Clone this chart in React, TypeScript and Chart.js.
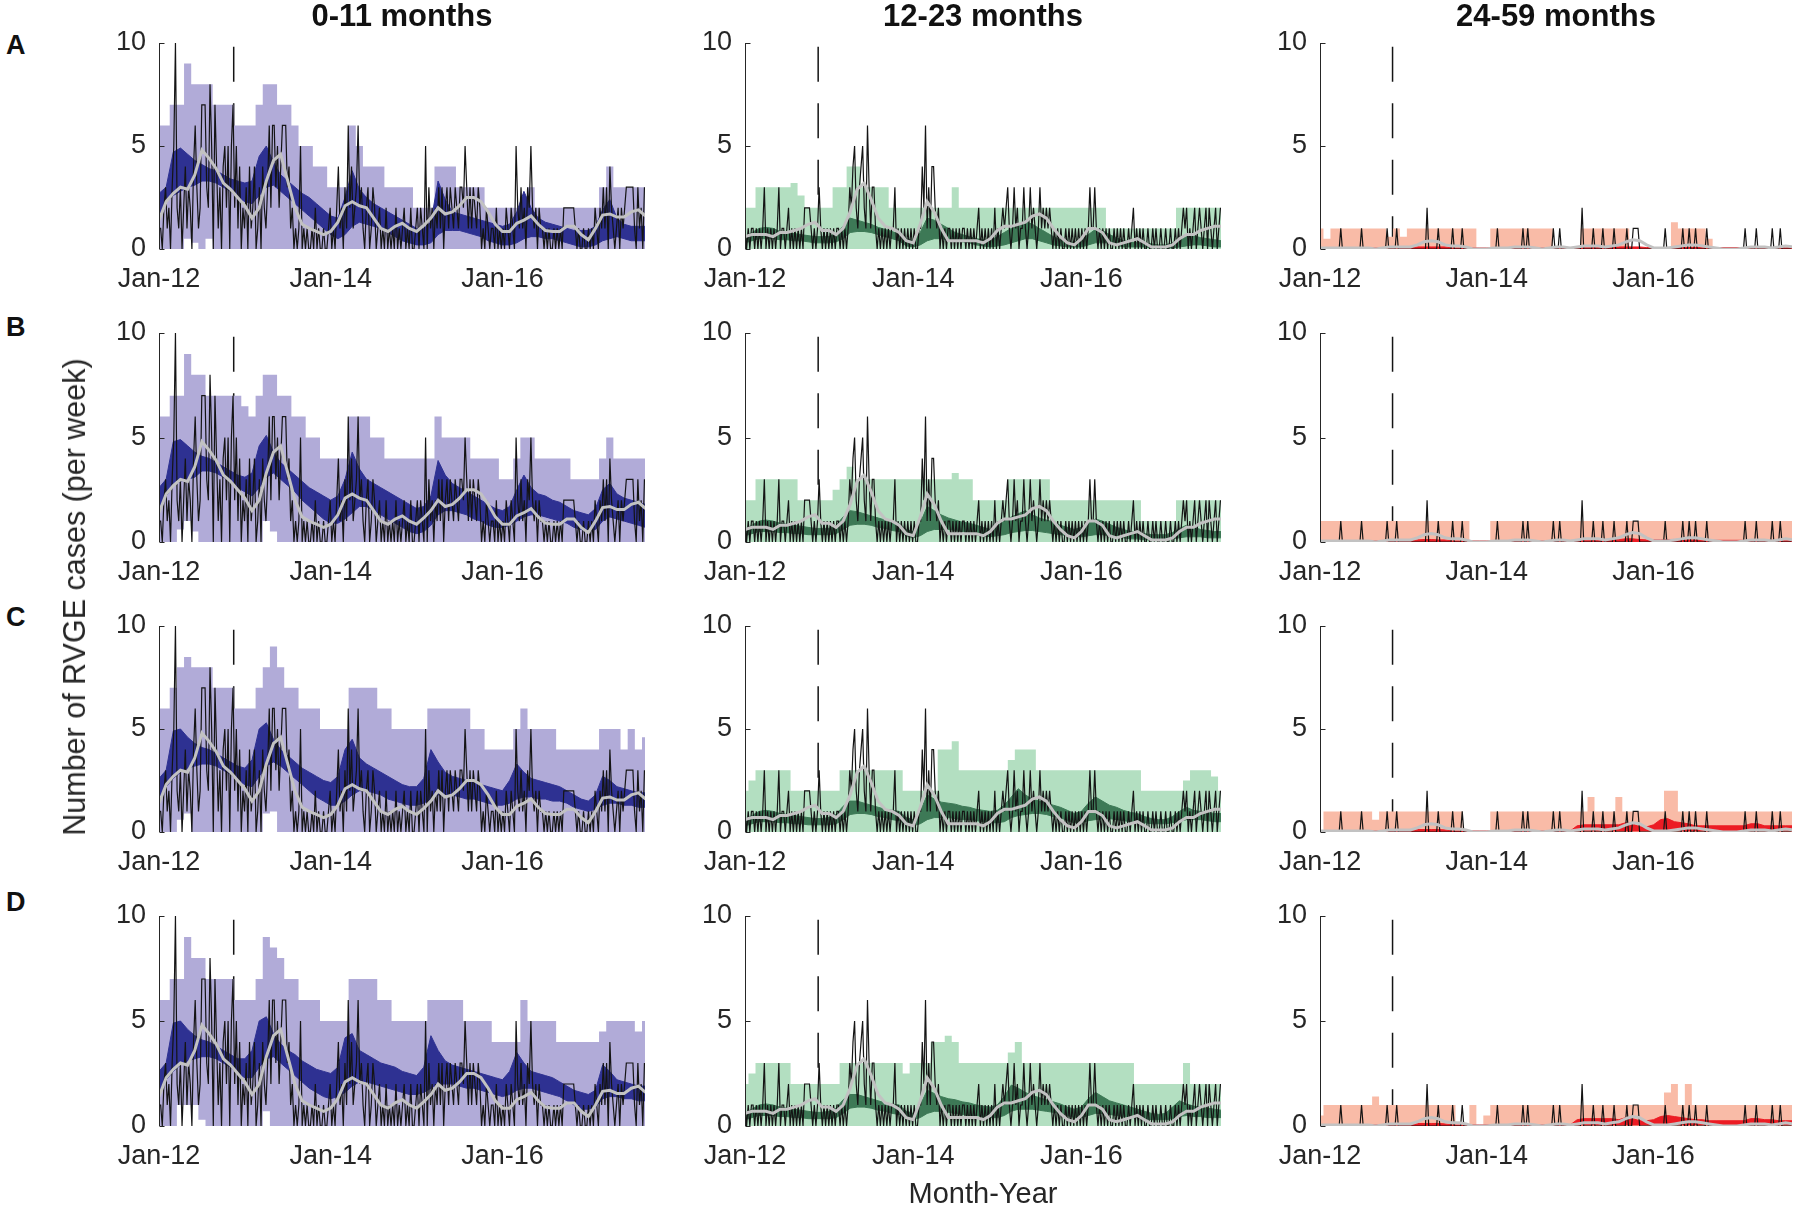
import React, { useEffect, useRef } from "react";
import { Chart, registerables } from "chart.js";

Chart.register(...registerables);

// ---------------- labels ----------------
const ageGroups = ["0-11 months", "12-23 months", "24-59 months"];
const rowLetters = ["A", "B", "C", "D"];
const xTickYears = [0, 2, 4];
const xTickLabels = ["Jan-12", "Jan-14", "Jan-16"];
const yTicks = [0, 5, 10];
const yAxisTitle = "Number of RVGE cases (per week)";
const xAxisTitle = "Month-Year";
const interventionYear = 0.87;
const weeksPerYear = 52.18;
const monthsPerYear = 12;
const xMaxYear = 5.66;

// ---------------- observed weekly cases (Jan 2012 onward) ----------------
const observedInfants = [
  1,1,0,2,3,1,2,0,3,5,
  10,2,1,3,0,2,4,1,3,2,
  0,4,6,3,1,2,7,7,7,3,
  2,8,5,0,7,4,1,3,0,4,
  5,2,5,0,5,7,2,5,1,4,
  0,2,1,3,0,4,1,2,4,0,
  1,3,0,4,2,1,3,6,2,6,
  6,3,5,2,4,6,6,6,3,4,
  1,2,0,1,0,1,5,0,1,0,
  1,0,0,1,0,2,0,1,0,0,
  1,0,0,1,2,0,1,0,2,4,
  1,2,0,3,1,6,2,4,1,2,
  3,6,2,3,1,0,2,3,0,1,
  3,2,0,1,2,0,1,0,2,0,
  1,0,1,0,2,0,1,0,1,2,
  0,1,0,2,0,0,1,2,0,2,
  1,0,5,0,3,1,2,0,2,1,
  3,1,3,0,2,3,1,3,2,1,
  3,2,1,3,3,2,5,3,1,3,
  1,3,2,1,3,2,0,1,0,2,
  1,0,1,1,0,2,0,1,0,1,
  0,2,1,0,2,1,0,5,2,1,
  3,1,2,0,3,2,5,2,1,2,
  0,2,1,1,0,1,0,1,0,0,
  1,0,1,0,1,0,2,2,2,2,
  2,2,2,1,0,1,0,0,1,0,
  0,1,0,1,0,2,1,0,2,1,
  3,1,3,0,4,2,1,0,1,2,
  0,2,1,2,3,3,3,3,3,1,
  0,3,1,2,0,3,
];
const observedToddlers = [
  1,0,1,0,1,1,0,1,0,1,
  0,1,3,0,1,0,1,0,1,0,
  1,3,0,1,1,0,1,2,0,1,
  0,1,0,1,0,1,0,2,2,2,
  2,1,0,1,0,1,3,1,0,1,
  0,1,0,1,0,1,0,1,1,0,
  1,0,1,0,1,3,2,4,5,2,
  1,3,4,5,2,1,6,3,1,3,
  3,1,0,1,0,1,0,1,0,1,
  0,1,1,3,0,1,0,1,0,1,
  0,1,0,1,0,1,0,0,1,1,
  4,2,6,1,3,1,4,4,2,1,
  2,0,1,0,1,0,1,1,0,1,
  0,1,0,1,0,1,1,0,1,0,
  1,0,1,0,1,2,0,1,0,1,
  0,1,0,1,0,2,0,1,0,1,
  2,1,2,3,1,0,1,3,1,2,
  0,1,1,3,1,0,1,3,1,2,
  1,0,1,3,1,2,1,2,1,2,
  1,0,1,0,1,0,1,0,0,1,
  0,1,0,1,0,1,0,1,0,1,
  0,1,0,1,3,1,1,3,1,0,
  1,0,1,0,1,0,1,0,0,1,
  0,1,0,1,0,1,0,0,1,0,
  1,2,0,1,0,1,0,1,0,0,
  1,0,0,1,0,1,0,0,1,0,
  0,1,0,0,1,0,0,1,0,1,
  0,1,2,1,2,0,1,0,1,2,
  0,1,2,1,0,1,2,0,2,1,
  0,1,2,0,1,2,
];
const observedChildren = [
  0,0,0,0,0,0,0,0,0,0,
  0,0,0,1,0,0,0,0,0,0,
  0,0,0,0,0,0,1,0,0,0,
  0,0,0,0,0,0,0,0,0,0,
  0,0,1,0,0,0,0,0,1,0,
  0,0,0,0,0,0,0,0,0,0,
  0,0,0,0,0,0,0,2,0,0,
  0,0,0,0,1,0,0,0,0,0,
  0,0,0,1,0,0,0,0,0,1,
  0,0,0,0,0,0,0,0,0,0,
  0,0,0,0,0,0,0,0,0,0,
  0,1,0,0,0,0,0,0,0,0,
  0,0,0,0,0,0,0,1,0,0,
  1,0,0,0,0,0,0,0,0,0,
  0,0,0,0,0,0,1,0,0,0,
  1,0,0,0,0,0,0,0,0,0,
  0,0,0,0,2,0,0,0,0,0,
  0,1,0,0,0,0,0,1,0,0,
  0,0,0,0,1,0,0,0,0,0,
  0,0,1,0,0,0,1,1,1,1,
  0,0,0,0,0,0,0,0,0,0,
  0,0,0,0,0,0,1,0,0,0,
  0,0,0,0,0,0,0,1,0,0,
  0,1,0,0,0,1,0,0,0,0,
  0,0,1,0,0,0,0,0,0,0,
  0,0,0,0,0,0,0,0,0,0,
  0,0,0,0,0,0,1,0,0,0,
  0,0,0,1,0,0,0,0,0,0,
  0,0,0,1,0,0,0,0,1,0,
  0,0,0,0,0,0,
];

// ---------------- smoothed observed (monthly, grey line) ----------------
const smoothedInfants = [
  1.4,2.3,2.7,3.0,2.9,3.6,4.8,4.4,3.9,3.2,2.9,2.5,
  2.1,1.5,2.0,3.3,4.3,4.6,3.3,2.0,1.2,1.0,0.85,0.7,
  0.85,1.3,2.1,2.3,2.1,2.0,1.5,1.0,0.85,1.1,1.25,1.0,
  0.85,1.15,1.5,2.0,1.7,1.8,2.1,2.5,2.5,2.3,1.8,1.2,
  0.85,0.85,1.25,1.4,1.6,1.2,0.9,0.85,0.85,1.1,1.1,0.7,
  0.45,1.0,1.65,1.7,1.55,1.55,1.8,1.9,1.6,
];
const smoothedToddlers = [
  0.6,0.7,0.7,0.7,0.6,0.8,0.8,0.9,1.0,1.2,1.3,0.9,
  0.9,0.7,1.0,1.8,2.9,3.2,2.4,1.5,1.1,1.0,0.8,0.4,
  0.3,1.2,2.3,1.8,1.0,0.4,0.4,0.4,0.4,0.4,0.3,0.5,
  0.9,1.1,1.1,1.2,1.3,1.6,1.7,1.5,1.0,0.6,0.3,0.2,
  0.5,1.0,1.0,0.8,0.3,0.2,0.3,0.4,0.5,0.3,0.1,0.1,
  0.1,0.2,0.5,0.7,0.7,0.9,1.0,1.1,1.1,
];
const smoothedChildren = [
  0.05,0.05,0.05,0.05,0.05,0.05,0.05,0.05,0.0,0.05,0.1,0.1,
  0.1,0.1,0.2,0.35,0.4,0.35,0.2,0.15,0.15,0.1,0.0,0.0,
  0.0,0.05,0.05,0.05,0.1,0.1,0.1,0.05,0.0,0.05,0.1,0.1,
  0.05,0.1,0.15,0.15,0.15,0.1,0.15,0.2,0.35,0.45,0.4,0.2,
  0.05,0.05,0.05,0.1,0.15,0.2,0.2,0.15,0.1,0.05,0.0,0.0,
  0.0,0.05,0.1,0.1,0.1,0.05,0.1,0.15,0.1,
];

// ---------------- 0-11 months: prediction intervals (monthly) ----------------
const lightHiA1 = [
  6,6,7,7,9,8,8,8,7,7,7,6,
  6,6,7,8,8,7,7,6,5,5,4,4,
  3,3,3,6,5,4,4,4,3,3,3,3,
  2,2,2,4,4,4,3,3,3,3,2,2,
  2,2,2,2,3,2,2,2,2,2,2,2,
  2,2,3,4,3,3,3,3,3,
];
const lightLoA1 = [
  0,0,0,0,0.5,0.3,0,0.5,0,0,0,0,
  0,0,0,0,0,0,0,0,0,0,0,0,
  0,0,0,0,0,0,0,0,0,0,0,0,
  0,0,0,0,0,0,0,0,0,0,0,0,
  0,0,0,0,0,0,0,0,0,0,0,0,
  0,0,0,0,0,0,0,0,0,
];
const darkHiA1 = [
  2.7,3.0,4.7,4.9,4.6,4.3,4.1,3.9,3.8,3.6,3.4,3.3,
  3.2,3.3,4.5,5.0,4.2,3.6,3.3,3.0,2.7,2.5,2.2,1.9,
  1.6,1.5,2.5,3.8,2.9,2.5,2.2,2.0,1.8,1.6,1.4,1.2,
  1.0,1.0,1.3,3.3,2.4,1.8,1.7,1.6,1.5,1.4,1.3,1.2,
  1.1,1.2,1.8,2.8,2.0,1.5,1.3,1.2,1.1,1.0,0.9,0.9,
  0.9,1.1,1.9,2.4,1.5,1.2,1.1,1.1,1.1,
];
const darkLoA1 = [
  1.5,2.3,2.6,2.8,3.0,3.1,3.3,3.3,3.2,3.0,2.8,2.5,
  2.3,2.2,2.6,3.0,3.1,2.8,2.5,2.2,1.9,1.6,1.3,1.0,
  0.7,0.5,0.7,1.1,1.3,1.2,1.1,1.0,0.8,0.6,0.4,0.3,
  0.2,0.2,0.3,0.7,0.9,0.9,0.9,0.8,0.7,0.6,0.4,0.3,
  0.2,0.2,0.3,0.5,0.6,0.6,0.5,0.5,0.4,0.3,0.2,0.1,
  0.1,0.2,0.4,0.5,0.6,0.5,0.4,0.4,0.4,
];
const lightHiB1 = [
  6,6,7,7,9,8,8,7,7,7,7,7,
  6.5,6,7,8,8,7,7,6,6,5,5,4,
  4,4,4,6,6,6,5,5,4,4,4,4,
  4,4,4,6,5,5,5,5,4,4,4,4,
  3,3,4,5,5,4,4,4,4,4,3,3,
  3,3,4,5,4,4,4,4,4,
];
const lightLoB1 = [
  0,0,0,0.6,1,0.5,0,0,0,0,0,0,
  0,0,0,1,0.5,0,0,0,0,0,0,0,
  0,0,0,0,0,0,0,0,0,0,0,0,
  0,0,0,0,0,0,0,0,0,0,0,0,
  0,0,0,0,0,0,0,0,0,0,0,0,
  0,0,0,0,0,0,0,0,0,
];
const darkHiB1 = [
  2.6,3.0,4.8,4.9,4.6,4.3,4.1,4.0,3.8,3.6,3.4,3.2,
  3.1,3.3,4.6,5.1,4.3,3.8,3.5,3.2,2.9,2.6,2.4,2.2,
  2.0,2.2,3.0,4.3,3.5,3.0,2.8,2.6,2.4,2.2,2.0,1.8,
  1.6,1.7,2.2,3.9,3.2,2.8,2.6,2.4,2.2,2.0,1.8,1.6,
  1.5,1.7,2.5,3.2,2.6,2.3,2.2,2.0,1.9,1.7,1.5,1.4,
  1.3,1.6,2.5,2.8,2.3,2.1,2.0,1.9,1.8,
];
const darkLoB1 = [
  1.5,2.2,2.7,2.9,3.0,3.1,3.4,3.4,3.3,3.1,2.9,2.6,
  2.4,2.2,2.6,3.1,3.3,3.0,2.7,2.4,2.0,1.7,1.4,1.1,
  0.9,0.9,1.1,1.4,1.7,1.7,1.5,1.3,1.1,0.9,0.7,0.5,
  0.4,0.5,0.8,1.3,1.5,1.5,1.4,1.3,1.1,1.0,0.8,0.7,
  0.7,0.8,1.0,1.2,1.3,1.3,1.2,1.1,1.0,0.9,0.7,0.6,
  0.5,0.6,1.0,1.2,1.1,1.0,0.9,0.8,0.7,
];
const lightHiC1 = [
  6,6,7,8,8.5,8,8,8,7,7,7,6,
  6,6,7,8,9,8,7,7,6,6,6,5,
  5,5,5,7,7,7,7,6,6,5,5,5,
  5,5,6,6,6,6,6,6,5,5,4,4,
  4,4,5,6,5,5,5,5,4,4,4,4,
  4,4,5,5,5,4,5,4,4.6,
];
const lightLoC1 = [
  0,0,0,0.6,0.9,0,0,0,0,0,0,0,
  0,0,0,0.9,1,0,0,0,0,0,0,0,
  0,0,0,0,0,0,0,0,0,0,0,0,
  0,0,0,0,0,0,0,0,0,0,0,0,
  0,0,0,0,0,0,0,0,0,0,0,0,
  0,0,0,0,0,0,0,0,0,
];
const darkHiC1 = [
  2.6,3.0,4.9,5.0,4.6,4.3,4.1,4.0,3.8,3.6,3.4,3.2,
  3.1,3.5,5.0,5.3,4.5,4.0,3.7,3.4,3.1,2.9,2.7,2.5,
  2.4,2.7,4.0,4.5,3.6,3.3,3.1,2.9,2.7,2.5,2.3,2.2,
  2.2,2.6,4.0,3.4,2.9,2.7,2.6,2.5,2.4,2.3,2.2,2.1,
  2.0,2.5,3.3,2.9,2.6,2.5,2.4,2.3,2.2,2.0,1.8,1.6,
  1.5,1.8,2.7,2.5,2.2,2.1,2.0,1.9,1.9,
];
const darkLoC1 = [
  1.5,2.2,2.6,2.9,3.1,3.2,3.3,3.3,3.2,3.0,2.8,2.5,
  2.3,2.2,2.7,3.2,3.4,3.2,2.9,2.6,2.3,2.0,1.7,1.5,
  1.3,1.3,1.5,1.8,2.0,2.0,1.9,1.8,1.6,1.5,1.4,1.3,
  1.3,1.4,1.6,1.8,1.8,1.8,1.7,1.6,1.6,1.5,1.4,1.3,
  1.3,1.4,1.6,1.7,1.7,1.6,1.6,1.5,1.5,1.4,1.2,1.1,
  1.0,1.1,1.3,1.4,1.4,1.3,1.3,1.2,1.2,
];
const lightHiD1 = [
  6,6,7,7,9,8,8,7,7,7,7,6,
  6,6,7,9,8.5,8,7,7,6,6,6,5,
  5,5,5,7,7,7,7,6,6,5,5,5,
  5,5,6,6,6,6,6,5,5,5,5,4,
  4,4,4,6,5,5,5,5,4,4,4,4,
  4,4,4.5,5,5,5,5,4.5,5,
];
const lightLoD1 = [
  0,0,0,1,1,1,0.3,0,0,0,0,0,
  0,0,0,0.7,0,0,0,0,0,0,0,0,
  0,0,0,0,0,0,0,0,0,0,0,0,
  0,0,0,0,0,0,0,0,0,0,0,0,
  0,0,0,0,0,0,0,0,0,0,0,0,
  0,0,0,0,0,0,0,0,0,
];
const darkHiD1 = [
  2.6,3.0,4.9,5.0,4.6,4.3,4.1,4.0,3.8,3.6,3.4,3.2,
  3.2,3.6,5.0,5.2,4.4,3.9,3.6,3.4,3.1,2.9,2.7,2.6,
  2.5,2.8,4.2,4.4,3.6,3.4,3.2,3.0,2.9,2.8,2.6,2.5,
  2.4,2.8,4.3,3.6,3.1,2.9,2.8,2.7,2.6,2.5,2.4,2.3,
  2.2,2.6,3.5,3.0,2.6,2.5,2.4,2.3,2.1,1.9,1.7,1.6,
  1.5,1.7,2.9,2.6,2.2,2.1,2.0,1.9,1.9,
];
const darkLoD1 = [
  1.5,2.2,2.6,2.9,3.1,3.2,3.3,3.3,3.2,3.0,2.8,2.5,
  2.3,2.3,2.8,3.2,3.3,3.0,2.7,2.4,2.1,1.8,1.6,1.4,
  1.3,1.4,1.6,1.9,2.1,2.1,2.0,1.9,1.8,1.7,1.6,1.5,
  1.5,1.6,1.8,2.0,2.0,2.0,1.9,1.8,1.8,1.7,1.6,1.5,
  1.4,1.5,1.7,1.8,1.8,1.7,1.6,1.5,1.4,1.2,1.0,0.8,
  0.8,0.9,1.3,1.4,1.4,1.3,1.3,1.2,1.2,
];

// ---------------- 12-23 months ----------------
const lightHiA2 = [
  2,2,3,3,3,3,3,3.2,2.6,2,2,2,
  2,3,3,4,4,3,3,3,3,2,2,2,
  2,2,2,2,2,2,3,2,2,2,2,2,
  2,2,2,2,2,2,2,2,2,2,2,2,
  2,2,2,2,1,1,1,1,1,1,1,1,
  1,1,2,2,2,2,2,2,2,
];
const darkHiA2 = [
  0.6,0.8,1.0,1.05,1.0,0.85,0.8,0.75,0.7,0.65,0.6,0.6,
  0.6,0.75,1.1,1.5,1.4,1.3,1.2,1.05,0.95,0.85,0.7,0.5,
  0.4,0.8,1.5,1.4,1.2,1.0,0.8,0.7,0.6,0.5,0.45,0.4,
  0.6,0.8,1.0,1.2,1.35,1.2,1.0,0.8,0.6,0.45,0.3,0.35,
  0.5,0.7,0.95,0.9,0.7,0.55,0.4,0.35,0.3,0.3,0.25,0.2,
  0.2,0.3,0.45,0.6,0.65,0.55,0.5,0.45,0.4,
];
const darkLoA2 = [
  0.3,0.4,0.5,0.5,0.5,0.45,0.45,0.4,0.4,0.35,0.3,0.3,
  0.3,0.35,0.5,0.8,0.85,0.85,0.8,0.7,0.6,0.5,0.4,0.15,
  0.1,0.2,0.4,0.5,0.5,0.45,0.4,0.35,0.3,0.2,0.15,0.1,
  0.15,0.2,0.3,0.4,0.5,0.5,0.4,0.3,0.2,0.15,0.1,0.1,
  0.1,0.2,0.3,0.3,0.3,0.2,0.1,0.1,0.1,0.1,0.05,0.05,
  0.05,0.05,0.1,0.15,0.2,0.2,0.15,0.1,0.1,
];
const lightHiB2 = [
  2,2,3,3,3,3,3,3,2,2,2,2,
  2,2.5,3,3.6,3,3,3,3,3,3,3,3,
  3,3,3,3,3,3,3.3,3,3,2,2,2,
  2,2,3,3,3,3,3,3,2,2,2,2,
  2,2,2,2,2,2,2,2,2,1,1,1,
  1,1,2,2,2,2,2,2,2,
];
const darkHiB2 = [
  0.6,0.8,1.0,1.05,1.0,0.9,0.85,0.8,0.75,0.7,0.65,0.65,
  0.65,0.8,1.2,1.5,1.45,1.35,1.25,1.15,1.05,1.0,0.9,0.6,
  0.5,0.9,1.7,1.5,1.3,1.15,1.05,0.95,0.9,0.8,0.7,0.6,
  0.8,1.0,1.2,1.35,1.5,1.3,1.15,1.05,0.95,0.8,0.7,0.6,
  0.7,0.9,1.1,1.0,0.85,0.7,0.6,0.5,0.45,0.4,0.35,0.35,
  0.35,0.45,0.65,0.8,0.7,0.6,0.55,0.5,0.5,
];
const darkLoB2 = [
  0.3,0.4,0.5,0.5,0.5,0.45,0.45,0.4,0.4,0.35,0.35,0.35,
  0.35,0.4,0.6,0.8,0.85,0.85,0.8,0.7,0.65,0.55,0.5,0.3,
  0.2,0.3,0.5,0.6,0.6,0.6,0.55,0.5,0.45,0.35,0.3,0.25,
  0.3,0.35,0.45,0.5,0.55,0.55,0.5,0.45,0.4,0.35,0.3,0.25,
  0.25,0.3,0.35,0.35,0.3,0.25,0.2,0.15,0.15,0.1,0.1,0.1,
  0.1,0.15,0.2,0.25,0.25,0.25,0.2,0.2,0.2,
];
const lightHiC2 = [
  2,2.5,3,3,3,3,3,2,2,2,2,2,
  2,2,3,3,3,3,3,3,3,3,3,2,
  2,2,2,2,4,4,4.4,3,3,3,3,3,
  3,3,3.5,4,4,4,3,3,3,3,3,3,
  3,3,3,3,3,3,3,3,3,2,2,2,
  2,2,2,2.5,3,3,3,2.7,2,
];
const darkHiC2 = [
  0.6,0.8,1.0,1.05,1.0,0.9,0.85,0.8,0.75,0.7,0.65,0.65,
  0.7,0.85,1.25,1.5,1.5,1.4,1.3,1.2,1.1,1.05,1.0,0.7,
  0.6,1.0,1.8,1.6,1.45,1.4,1.35,1.25,1.2,1.1,1.05,1.0,
  1.05,1.3,1.7,2.1,1.8,1.6,1.5,1.4,1.3,1.2,1.05,0.9,
  1.0,1.4,1.7,1.5,1.3,1.2,1.05,0.95,0.9,0.75,0.65,0.6,
  0.6,0.75,1.0,1.2,1.05,1.0,0.95,0.9,0.9,
];
const darkLoC2 = [
  0.3,0.4,0.5,0.5,0.5,0.45,0.45,0.4,0.4,0.35,0.35,0.35,
  0.35,0.4,0.6,0.85,0.9,0.9,0.85,0.75,0.7,0.6,0.55,0.35,
  0.3,0.4,0.6,0.7,0.7,0.7,0.65,0.6,0.6,0.55,0.5,0.45,
  0.45,0.5,0.7,0.8,0.85,0.9,0.9,0.85,0.75,0.7,0.55,0.45,
  0.45,0.55,0.6,0.65,0.65,0.6,0.55,0.5,0.5,0.45,0.4,0.4,
  0.4,0.45,0.5,0.6,0.6,0.6,0.55,0.5,0.5,
];
const lightHiD2 = [
  2,2.5,3,3,3,3,3,2,2,2,2,2,
  2,2,3,3,3,3,3,3,3,3,3,2.5,
  3,3,3,4,4,4.3,4,3,3,3,3,3,
  3,3,3.5,4,3,3,3,3,3,3,3,3,
  3,3,3,3,3,3,3,3,2,2,2,2,
  2,2,2,3,2,2,2,2,2,
];
const darkHiD2 = [
  0.6,0.8,1.0,1.05,1.0,0.9,0.85,0.8,0.75,0.7,0.65,0.65,
  0.7,0.85,1.25,1.5,1.5,1.4,1.3,1.2,1.1,1.05,1.0,0.7,
  0.6,1.0,1.7,1.55,1.4,1.3,1.25,1.15,1.1,1.0,0.95,0.9,
  1.0,1.4,1.95,1.8,1.6,1.45,1.35,1.25,1.15,1.05,0.9,0.8,
  0.9,1.3,1.6,1.4,1.2,1.1,1.0,0.9,0.8,0.7,0.6,0.55,
  0.6,0.9,1.2,1.05,0.95,0.9,0.85,0.8,0.75,
];
const darkLoD2 = [
  0.3,0.4,0.5,0.5,0.5,0.45,0.45,0.4,0.4,0.35,0.35,0.35,
  0.35,0.4,0.6,0.85,0.9,0.9,0.85,0.75,0.7,0.6,0.55,0.35,
  0.3,0.4,0.6,0.7,0.7,0.65,0.6,0.55,0.5,0.5,0.45,0.4,
  0.4,0.5,0.7,0.8,0.8,0.8,0.75,0.7,0.65,0.6,0.5,0.4,
  0.4,0.5,0.6,0.6,0.55,0.5,0.45,0.4,0.4,0.35,0.3,0.3,
  0.3,0.35,0.45,0.5,0.45,0.45,0.4,0.4,0.4,
];

// ---------------- 24-59 months ----------------
const lightHiA3 = [
  1,0.5,1,1,1,1,1,1,1,1,0.6,1,
  0.6,1,1,1,1,1,1,1,1,1,1,0,
  0,1,1,1,1,1,1,1,1,1,0,0,
  0,0,1,1,1,1,1,1,1,0,0,0,
  0,0,0,1.3,1,1,1,1,0.5,0,0,0,
  0,0,0,0,0,0,0,0,0,
];
const darkHiA3 = [
  0.05,0.05,0.05,0.05,0.05,0.05,0.05,0.05,0.05,0.05,0.05,0.05,
  0.05,0.05,0.1,0.1,0.1,0.1,0.1,0.05,0.05,0.05,0.05,0.05,
  0.05,0.05,0.05,0.05,0.05,0.05,0.05,0.05,0.05,0.05,0.05,0.05,
  0.05,0.05,0.1,0.1,0.1,0.1,0.1,0.1,0.1,0.1,0.1,0.07,
  0.07,0.07,0.07,0.07,0.07,0.07,0.07,0.07,0.07,0.07,0.07,0.07,
  0.07,0.07,0.07,0.07,0.07,0.07,0.07,0.07,0.07,
];
const lightHiB3 = [
  1,1,1,1,1,1,1,1,1,1,1,1,
  1,1,1,1,1,1,1,1,1,1,0,0,
  0,1,1,1,1,1,1,1,1,1,1,1,
  1,1,1,1,1,1,1,1,1,1,1,1,
  1,1,1,1,1,1,1,1,1,1,1,1,
  1,1,1,1,1,1,1,1,1,
];
const darkHiB3 = [
  0.05,0.05,0.05,0.05,0.05,0.05,0.05,0.05,0.05,0.05,0.05,0.05,
  0.05,0.05,0.1,0.12,0.12,0.1,0.1,0.05,0.05,0.05,0.05,0.05,
  0.05,0.05,0.05,0.05,0.05,0.05,0.05,0.05,0.05,0.05,0.05,0.05,
  0.05,0.1,0.12,0.12,0.12,0.12,0.12,0.12,0.15,0.15,0.12,0.1,
  0.1,0.1,0.12,0.12,0.1,0.1,0.1,0.1,0.08,0.08,0.08,0.08,
  0.08,0.08,0.1,0.1,0.08,0.08,0.08,0.08,0.08,
];
const lightHiC3 = [
  0,1,1,1,1,1,1,1,0.6,1,1,1,
  1,1,1,1,1,1,1,1,1,0,0,0,
  0,1,1,1,1,1,1,1,1,1,1,1,
  1,1,1,1.7,1,1,1,1.7,1,1,1,1,
  1,1,2,2,1,1,1,1,1,1,1,1,
  1,1,1,1,1,1,1,1,1,
];
const darkHiC3 = [
  0.05,0.05,0.05,0.05,0.05,0.05,0.05,0.05,0.05,0.05,0.05,0.05,
  0.05,0.05,0.12,0.12,0.12,0.12,0.1,0.05,0.05,0.05,0.05,0.05,
  0.05,0.05,0.05,0.05,0.05,0.05,0.05,0.05,0.05,0.05,0.05,0.05,
  0.05,0.3,0.35,0.35,0.35,0.35,0.35,0.35,0.45,0.4,0.25,0.25,
  0.35,0.6,0.65,0.5,0.45,0.4,0.3,0.3,0.3,0.3,0.3,0.3,
  0.3,0.3,0.4,0.4,0.3,0.3,0.3,0.3,0.3,
];
const darkLoC3 = [
  0,0,0,0,0,0,0,0,0,0,0,0,
  0,0,0,0,0,0,0,0,0,0,0,0,
  0,0,0,0,0,0,0,0,0,0,0,0,
  0,0.05,0.05,0.05,0.05,0.05,0.05,0.05,0.05,0.05,0.05,0.05,
  0.05,0.05,0.08,0.08,0.05,0.05,0.05,0.05,0.05,0.05,0.05,0.05,
  0.05,0.05,0.05,0.05,0.05,0.05,0.05,0.05,0.05,
];
const lightHiD3 = [
  0.5,1,1,1,1,1,1,1,1.4,1,1,1,
  1,1,1,1,1,1,1,1,0,0,1,0,
  0.5,1,1,1,1,1,1,1,1,1,1,1,
  1,1,1,1,1,1,1,1,1,1,1,1,
  1,1,1.6,2,1,2,1,1,1,1,1,1,
  1,1,1,1,1,1,1,1,1,
];
const darkHiD3 = [
  0.05,0.05,0.05,0.05,0.05,0.05,0.05,0.05,0.05,0.05,0.05,0.05,
  0.05,0.05,0.12,0.12,0.12,0.12,0.1,0.05,0.05,0.05,0.05,0.05,
  0.05,0.05,0.05,0.05,0.05,0.05,0.05,0.05,0.05,0.05,0.05,0.05,
  0.05,0.3,0.35,0.35,0.35,0.35,0.35,0.3,0.4,0.35,0.25,0.25,
  0.3,0.45,0.5,0.45,0.4,0.35,0.3,0.3,0.25,0.25,0.25,0.25,
  0.25,0.25,0.35,0.35,0.3,0.3,0.25,0.25,0.25,
];
const darkLoD3 = darkLoC3;

// ---------------- lookups ----------------
const observedByAge = [observedInfants, observedToddlers, observedChildren];
const smoothedByAge = [smoothedInfants, smoothedToddlers, smoothedChildren];
const lightHiPanels = [
  [lightHiA1, lightHiB1, lightHiC1, lightHiD1],
  [lightHiA2, lightHiB2, lightHiC2, lightHiD2],
  [lightHiA3, lightHiB3, lightHiC3, lightHiD3],
];
const lightLoPanels = [
  [lightLoA1, lightLoB1, lightLoC1, lightLoD1],
  [null, null, null, null],
  [null, null, null, null],
];
const darkHiPanels = [
  [darkHiA1, darkHiB1, darkHiC1, darkHiD1],
  [darkHiA2, darkHiB2, darkHiC2, darkHiD2],
  [darkHiA3, darkHiB3, darkHiC3, darkHiD3],
];
const darkLoPanels = [
  [darkLoA1, darkLoB1, darkLoC1, darkLoD1],
  [darkLoA2, darkLoB2, darkLoC2, darkLoD2],
  [null, null, darkLoC3, darkLoD3],
];

// ---------------- styling / layout ----------------
const lightColors = ["#b1abd8", "#b3dfc1", "#f9bba7"];
const darkColors = ["#2e3192", "#3d7956", "#ec1c24"];
const smoothColor = "#c2c2c2";
const observedColor = "#141414";
const textColor = "#262626";
const FONT = '"Liberation Sans", Arial, Helvetica, sans-serif';

const plotLeft = [159, 745, 1320];
const plotRight = [645, 1221, 1792];
const plotTop = [43, 333, 626, 916];
const plotBottom = [249, 542, 832, 1126];
const padL = 80, padT = 34, padR = 12, padB = 52;
const letterBaseline = [55, 337, 627, 912];

const axisPlugin = {
  id: "matlabAxis",
  afterDatasetsDraw(chart: any) {
    const { ctx, chartArea, scales } = chart;
    const ys = scales.y;
    ctx.save();
    ctx.strokeStyle = textColor;
    ctx.lineWidth = 1;
    const x0 = Math.round(chartArea.left) + 0.5;
    ctx.beginPath();
    ctx.moveTo(x0, ys.getPixelForValue(0));
    ctx.lineTo(x0, ys.getPixelForValue(10));
    for (const v of yTicks) {
      const py = Math.round(ys.getPixelForValue(v)) + 0.5;
      ctx.moveTo(x0, py);
      ctx.lineTo(x0 + 5, py);
    }
    ctx.stroke();
    ctx.restore();
  },
};

function weekly(arr: number[]) {
  return arr.map((v, i) => ({ x: i / weeksPerYear, y: v }));
}
function monthly(arr: number[]) {
  return arr.map((v, i) => ({ x: i / monthsPerYear, y: v }));
}

function makeConfig(col: number, row: number): any {
  const light = lightColors[col];
  const dark = darkColors[col];
  const lHi = lightHiPanels[col][row];
  const lLo = lightLoPanels[col][row];
  const dHi = darkHiPanels[col][row];
  const dLo = darkLoPanels[col][row];
  const base = { pointRadius: 0, pointHoverRadius: 0, tension: 0 };
  const datasets: any[] = [];
  datasets.push({ ...base, label: "smoothed", data: monthly(smoothedByAge[col]), borderColor: smoothColor, borderWidth: 3, fill: false, order: 0 });
  datasets.push({ ...base, label: "observed", data: weekly(observedByAge[col]), borderColor: observedColor, borderWidth: 1.2, fill: false, order: 1 });
  datasets.push({ ...base, label: "model", data: monthly(dHi), borderColor: dark, backgroundColor: dark, borderWidth: 1, fill: dLo ? "+1" : "origin", order: 2 });
  if (dLo) datasets.push({ ...base, label: "modelLo", data: monthly(dLo), borderColor: dark, borderWidth: 1, fill: false, order: 3 });
  datasets.push({ ...base, label: "interval", data: monthly(lHi), stepped: "middle", borderColor: light, backgroundColor: light, borderWidth: 0, fill: lLo ? "+1" : "origin", order: 4 });
  if (lLo) datasets.push({ ...base, label: "intervalLo", data: monthly(lLo), stepped: "middle", borderColor: light, borderWidth: 0, fill: false, order: 5 });
  datasets.push({ ...base, label: "intervention", data: [{ x: interventionYear, y: 9.82 }, { x: interventionYear, y: 0 }], borderColor: observedColor, borderWidth: 1.5, borderDash: [35, 21.5], fill: false, order: 6 });

  return {
    type: "line",
    data: { datasets },
    plugins: [axisPlugin],
    options: {
      animation: false,
      responsive: false,
      events: [],
      layout: { padding: { left: 0, top: padT, right: padR, bottom: 0 } },
      plugins: { legend: { display: false }, tooltip: { enabled: false }, title: { display: false } },
      scales: {
        x: {
          type: "linear",
          min: 0,
          max: xMaxYear,
          grid: { display: false, drawTicks: false },
          border: { display: false },
          afterBuildTicks: (s: any) => { s.ticks = xTickYears.map((v) => ({ value: v })); },
          afterFit: (s: any) => { s.height = padB; },
          ticks: {
            autoSkip: false,
            maxRotation: 0,
            padding: 14,
            color: textColor,
            font: { family: FONT, size: 27 },
            callback: (v: number) => { const i = xTickYears.indexOf(v); return i >= 0 ? xTickLabels[i] : ""; },
          },
        },
        y: {
          type: "linear",
          min: 0,
          max: 10,
          grid: { display: false, drawTicks: false },
          border: { display: false },
          afterBuildTicks: (s: any) => { s.ticks = yTicks.map((v) => ({ value: v })); },
          afterFit: (s: any) => { s.width = padL; },
          ticks: { padding: 13, color: textColor, font: { family: FONT, size: 27 } },
        },
      },
    },
  };
}

export default function App() {
  const refs = useRef<(HTMLCanvasElement | null)[]>([]);

  useEffect(() => {
    const charts: Chart[] = [];
    for (let r = 0; r < 4; r++) {
      for (let c = 0; c < 3; c++) {
        const cv = refs.current[r * 3 + c];
        if (cv) charts.push(new Chart(cv, makeConfig(c, r)));
      }
    }
    return () => charts.forEach((ch) => ch.destroy());
  }, []);

  const canvases: any[] = [];
  for (let r = 0; r < 4; r++) {
    for (let c = 0; c < 3; c++) {
      const w = plotRight[c] - plotLeft[c] + padL + padR;
      const h = plotBottom[r] - plotTop[r] + padT + padB;
      canvases.push(
        <canvas
          key={`${r}-${c}`}
          ref={(el) => { refs.current[r * 3 + c] = el; }}
          width={w}
          height={h}
          style={{ position: "absolute", left: plotLeft[c] - padL, top: plotTop[r] - padT, width: w, height: h }}
        />
      );
    }
  }

  return (
    <div style={{ position: "absolute", left: 0, top: 0, width: 1800, height: 1206, overflow: "hidden", background: "#fff", fontFamily: FONT }}>
      {canvases}
      {ageGroups.map((t, c) => (
        <div key={t} style={{ position: "absolute", left: (plotLeft[c] + plotRight[c]) / 2, top: 0, transform: "translateX(-50%)", fontSize: 31, lineHeight: "31px", fontWeight: 700, color: "#111", whiteSpace: "nowrap" }}>{t}</div>
      ))}
      {rowLetters.map((l, r) => (
        <div key={l} style={{ position: "absolute", left: 6, top: letterBaseline[r] - 23, fontSize: 27, lineHeight: "27px", fontWeight: 700, color: "#111" }}>{l}</div>
      ))}
      <div style={{ position: "absolute", left: 74, top: 597, transform: "translate(-50%, -50%) rotate(-90deg)", fontSize: 30.5, lineHeight: "30px", color: textColor, whiteSpace: "nowrap" }}>{yAxisTitle}</div>
      <div style={{ position: "absolute", left: (plotLeft[1] + plotRight[1]) / 2, top: 1179, transform: "translateX(-50%)", fontSize: 29, lineHeight: "29px", color: textColor, whiteSpace: "nowrap" }}>{xAxisTitle}</div>
    </div>
  );
}
